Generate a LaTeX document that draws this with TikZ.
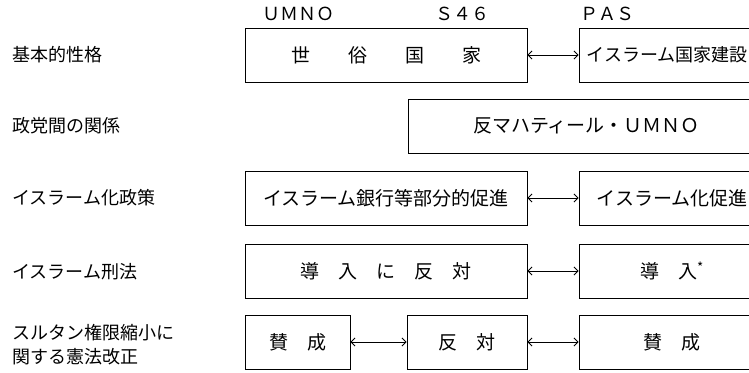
\documentclass[tikz,border=0pt]{standalone}
\usepackage{fontspec}
\setmainfont{Noto Sans CJK JP}
\usetikzlibrary{arrows.meta}
\tikzset{
    	every node/.append style={font=\fontsize{18}{24}\selectfont}}

\begin{document}
\begin{tikzpicture}
  [x=1pt,y=-1pt,>={Straight Barb[length=4pt,width=8pt]},
   box/.style={draw,line width=0.9pt,minimum height=54pt,inner sep=0pt,font=\fontsize{19}{24}\selectfont},
   lbl/.style={anchor=west,inner sep=0pt,align=left}]
  \useasboundingbox (0,0) rectangle (749,372);
  \clip (0,0) rectangle (749,372);
  % party names
  \node (h1) at (298,14) {ＵＭＮＯ};
  \node (h2) at (462,14) {Ｓ４６};
  \node (h3) at (607,14) {ＰＡＳ};
  % row labels
  \node [lbl] (l1) at (12,55) {基本的性格};
  \node [lbl] (l2) at (12,126) {政党間の関係};
  \node [lbl] (l3) at (12,198) {イスラーム化政策};
  \node [lbl] (l4) at (12,272) {イスラーム刑法};
  \node [lbl] (l5) at (12,345) {スルタン権限縮小に\\関する憲法改正};
  % boxes
  \node [box,minimum width=282pt] (b1) at (386,55) {世　　俗　　国　　家};
  \node [box,minimum width=176pt,font=\fontsize{18}{24}\selectfont] (b2) at (667,55) {イスラーム国家建設};
  \node [box,minimum width=357pt] (b3) at (586.5,126) {反マハティール・ＵＭＮＯ};
  \node [box,minimum width=282pt] (b5) at (386,198) {イスラーム銀行等部分的促進};
  \node [box,minimum width=186pt] (b6) at (672,198) {イスラーム化促進};
  \node [box,minimum width=282pt] (b7) at (386,271) {導　入　に　反　対};
  \node [box,minimum width=186pt] (b8) at (672,271) {導　入\textsuperscript{*}};
  \node [box,minimum width=105pt] (b9) at (297.5,342) {賛　成};
  \node [box,minimum width=120pt] (b10) at (467,342) {反　対};
  \node [box,minimum width=186pt] (b11) at (672,342) {賛　成};

  \foreach \from/\to in {b1/b2,b5/b6,b7/b8,b9/b10,b10/b11}
    \draw[<->, line width=0.8pt] (\from) -- (\to);
\end{tikzpicture}
\end{document}
